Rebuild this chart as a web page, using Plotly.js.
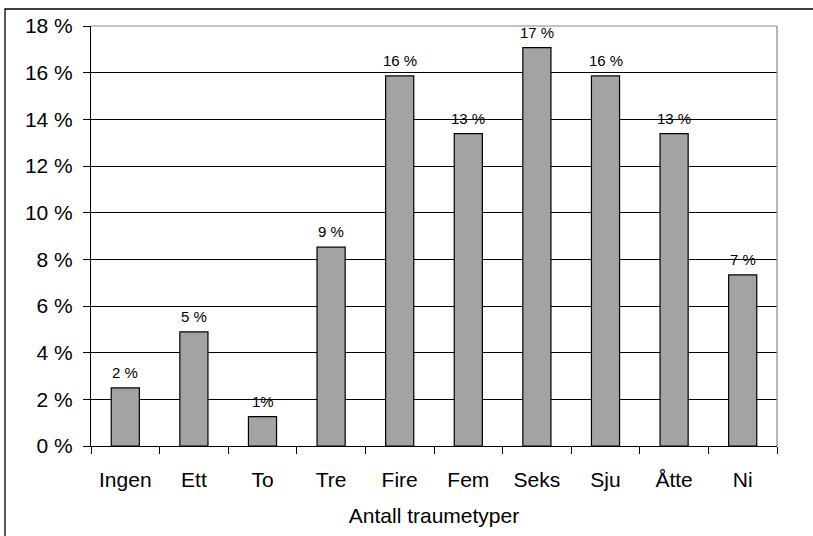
<!DOCTYPE html>
<html>
<head>
<meta charset="utf-8">
<script src="https://cdn.plot.ly/plotly-3.0.1.min.js"></script>
<style>
html,body{margin:0;padding:0;background:#fff;}
#chart{width:813px;height:536px;}
</style>
</head>
<body>
<div id="chart"></div>
<script>
const categories = ["Ingen", "Ett", "To", "Tre", "Fire", "Fem", "Seks", "Sju", "Åtte", "Ni"];
const values = [2.49, 4.89, 1.26, 8.52, 15.86, 13.39, 17.07, 15.86, 13.39, 7.33];
const valueLabels = ["2 %", "5 %", "1%", "9 %", "16 %", "13 %", "17 %", "16 %", "13 %", "7 %"];
const yTickVals = [0, 2, 4, 6, 8, 10, 12, 14, 16, 18];
const yTickText = ["0 %", "2 %", "4 %", "6 %", "8 %", "10 %", "12 %", "14 %", "16 %", "18 %"];
const xTitle = "Antall traumetyper";

const FONT = "Liberation Sans, Arial, sans-serif";

const trace = {
  type: "bar",
  x: categories,
  y: values,
  width: 0.41,
  marker: {color: "#a3a3a3", line: {color: "#000", width: 1.2}},
  hoverinfo: "skip"
};

const annotations = categories.map((c, i) => ({
  x: c, y: values[i], xref: "x", yref: "y",
  text: valueLabels[i], showarrow: false,
  yanchor: "bottom", yshift: 5,
  font: {family: FONT, size: 15, color: "#000"}
}));

const layout = {
  width: 813, height: 536,
  margin: {l: 91, r: 36, t: 26, b: 90},
  paper_bgcolor: "#fff", plot_bgcolor: "#fff",
  showlegend: false,
  bargap: 0.59,
  font: {family: FONT, color: "#000"},
  xaxis: {
    type: "category",
    range: [-0.5, 9.5],
    showline: true, linecolor: "#000", linewidth: 1,
    ticks: "outside", tickson: "boundaries", ticklen: 7, tickcolor: "#000", tickwidth: 1,
    tickfont: {family: FONT, size: 21, color: "#000"},
    ticklabelstandoff: 15,
    showgrid: false, zeroline: false,
    title: {text: xTitle, font: {family: FONT, size: 21, color: "#000"}, standoff: 18},
    automargin: false, fixedrange: true
  },
  yaxis: {
    range: [0, 18],
    tickvals: yTickVals, ticktext: yTickText,
    showline: true, linecolor: "#000", linewidth: 1,
    ticks: "outside", ticklen: 7, tickcolor: "#000", tickwidth: 1,
    tickfont: {family: FONT, size: 21, color: "#000"},
    ticklabelstandoff: 6,
    showgrid: true, gridcolor: "#000", gridwidth: 1,
    zeroline: false, automargin: false, fixedrange: true
  },
  annotations: annotations,
  shapes: [
    {type: "line", xref: "paper", yref: "paper", x0: 1, x1: 1, y0: 0, y1: 1,
     line: {color: "#888", width: 1.2}},
    {type: "line", xref: "paper", yref: "paper", x0: 0, x1: 1, y0: 1, y1: 1,
     line: {color: "#888", width: 1.2}},
    {type: "rect", xref: "paper", yref: "paper",
     x0: (5 - 91) / 686, x1: (830 - 91) / 686,
     y0: (446 - 550) / 420, y1: (446 - 9) / 420,
     line: {color: "#000", width: 1.3}, fillcolor: "rgba(0,0,0,0)", layer: "above"}
  ]
};

Plotly.newPlot("chart", [trace], layout, {displayModeBar: false, staticPlot: true});
</script>
</body>
</html>
